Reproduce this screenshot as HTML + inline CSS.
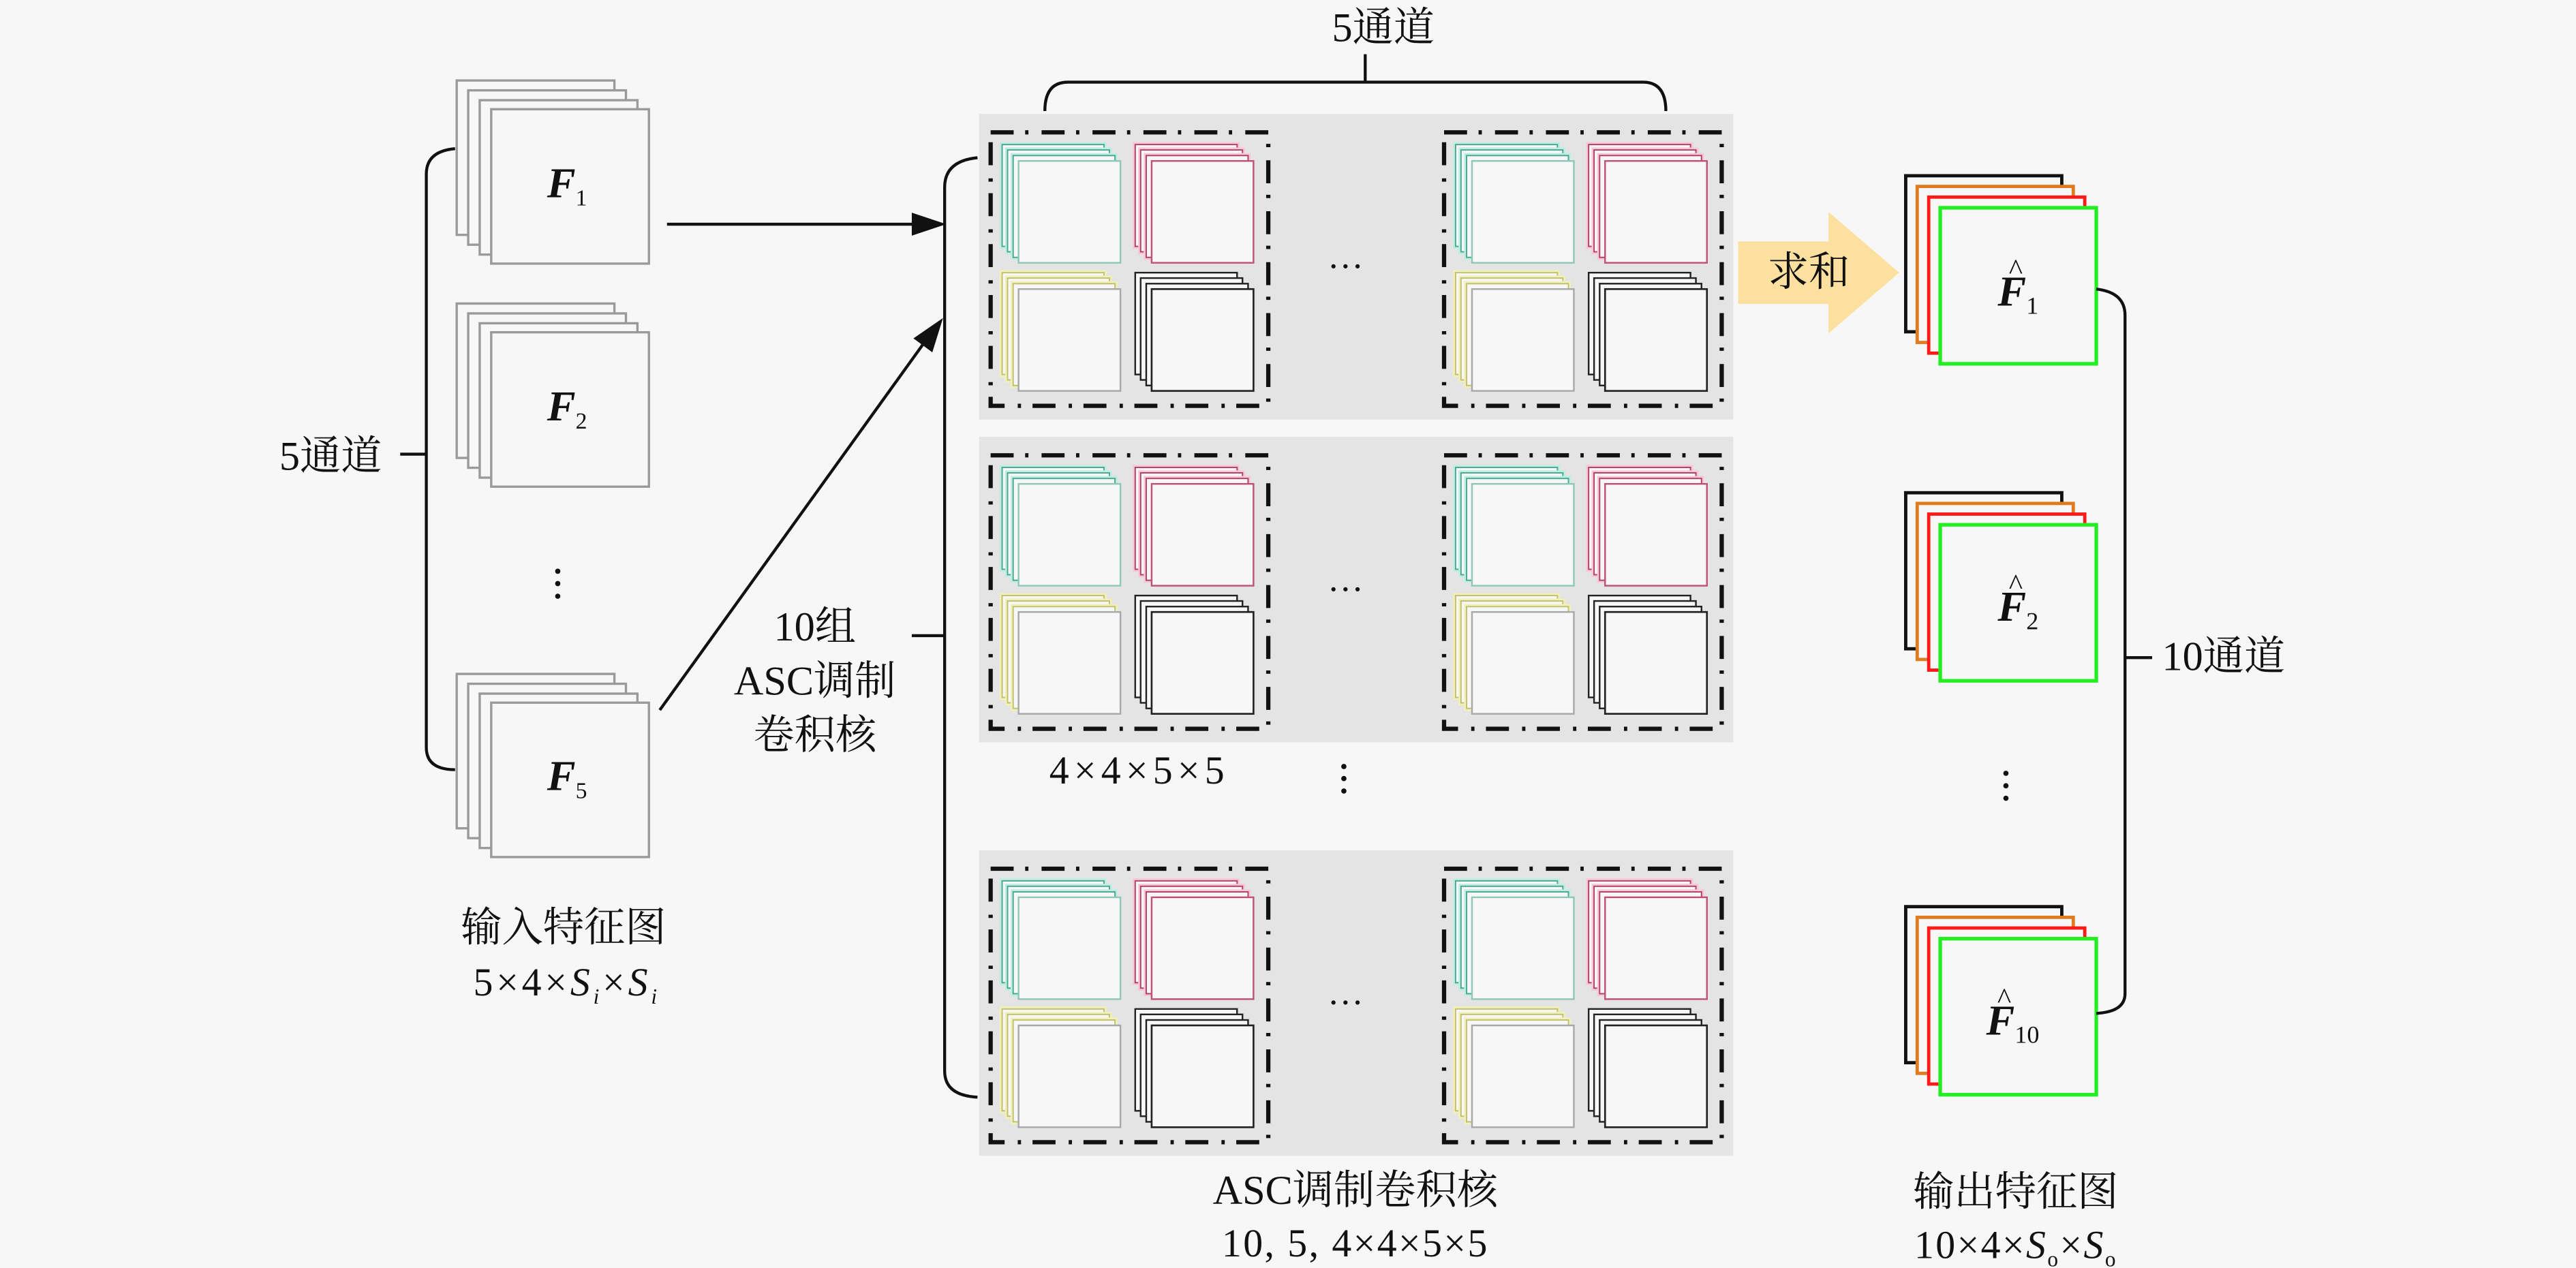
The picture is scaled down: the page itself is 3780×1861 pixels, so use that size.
<!DOCTYPE html>
<html><head><meta charset="utf-8"><style>
html,body{margin:0;padding:0;background:#f7f7f7;}
svg{display:block;}
text{font-family:"Liberation Serif","Noto Serif CJK SC",serif;fill:#111;}
.cj{font-size:25px;}
.m{font-weight:bold;font-style:italic;font-size:26px;}
</style></head><body>
<svg width="3780" height="1861" viewBox="0 0 1568 772" preserveAspectRatio="none" xmlns="http://www.w3.org/2000/svg">
<defs>
  <g id="ist">
    <rect x="-21" y="-17.5" width="96" height="94" fill="#f7f7f7" stroke="#9a9a9a" stroke-width="1.4"/>
    <rect x="-14" y="-11.5" width="96" height="94" fill="#f7f7f7" stroke="#9a9a9a" stroke-width="1.4"/>
    <rect x="-7" y="-5.5" width="96" height="94" fill="#f7f7f7" stroke="#9a9a9a" stroke-width="1.4"/>
    <rect x="0" y="0" width="96" height="94" fill="#f7f7f7" stroke="#9a9a9a" stroke-width="1.4"/>
  </g>
  <g id="ost">
    <rect x="-21" y="-19.5" width="95" height="95" fill="#f7f7f7" stroke="#111" stroke-width="2"/>
    <rect x="-14" y="-13" width="95" height="95" fill="#f7f7f7" stroke="#e07b20" stroke-width="2"/>
    <rect x="-7" y="-6.5" width="95" height="95" fill="#f7f7f7" stroke="#ff1a1a" stroke-width="2"/>
    <rect x="0" y="0" width="95" height="95" fill="#f7f7f7" stroke="#22ee22" stroke-width="2.2"/>
  </g>
  <g id="kt">
    <rect x="-10" y="-10" width="62" height="62" fill="#f7f7f7" stroke="#bdeee0" stroke-width="3"/>
    <rect x="-10" y="-10" width="62" height="62" fill="#f7f7f7" stroke="#4aa890" stroke-width="0.8"/>
    <rect x="-6.7" y="-6.7" width="62" height="62" fill="#f7f7f7" stroke="#bdeee0" stroke-width="3"/>
    <rect x="-6.7" y="-6.7" width="62" height="62" fill="#f7f7f7" stroke="#4aa890" stroke-width="0.8"/>
    <rect x="-3.3" y="-3.3" width="62" height="62" fill="#f7f7f7" stroke="#bdeee0" stroke-width="3"/>
    <rect x="-3.3" y="-3.3" width="62" height="62" fill="#f7f7f7" stroke="#4aa890" stroke-width="0.8"/>
    <rect x="0" y="0" width="62" height="62" fill="#f7f7f7" stroke="#8fc8b8" stroke-width="1"/>
  </g>
  <g id="kp">
    <rect x="-10" y="-10" width="62" height="62" fill="#f7f7f7" stroke="#f8c6d6" stroke-width="3"/>
    <rect x="-10" y="-10" width="62" height="62" fill="#f7f7f7" stroke="#b04068" stroke-width="0.8"/>
    <rect x="-6.7" y="-6.7" width="62" height="62" fill="#f7f7f7" stroke="#f8c6d6" stroke-width="3"/>
    <rect x="-6.7" y="-6.7" width="62" height="62" fill="#f7f7f7" stroke="#b04068" stroke-width="0.8"/>
    <rect x="-3.3" y="-3.3" width="62" height="62" fill="#f7f7f7" stroke="#f8c6d6" stroke-width="3"/>
    <rect x="-3.3" y="-3.3" width="62" height="62" fill="#f7f7f7" stroke="#b04068" stroke-width="0.8"/>
    <rect x="0" y="0" width="62" height="62" fill="#f7f7f7" stroke="#c05078" stroke-width="1"/>
  </g>
  <g id="ky">
    <rect x="-10" y="-10" width="62" height="62" fill="#f7f7f7" stroke="#f0f0b8" stroke-width="3"/>
    <rect x="-10" y="-10" width="62" height="62" fill="#f7f7f7" stroke="#c0c070" stroke-width="0.8"/>
    <rect x="-6.7" y="-6.7" width="62" height="62" fill="#f7f7f7" stroke="#f0f0b8" stroke-width="3"/>
    <rect x="-6.7" y="-6.7" width="62" height="62" fill="#f7f7f7" stroke="#c0c070" stroke-width="0.8"/>
    <rect x="-3.3" y="-3.3" width="62" height="62" fill="#f7f7f7" stroke="#f0f0b8" stroke-width="3"/>
    <rect x="-3.3" y="-3.3" width="62" height="62" fill="#f7f7f7" stroke="#c0c070" stroke-width="0.8"/>
    <rect x="0" y="0" width="62" height="62" fill="#f7f7f7" stroke="#a8a8a8" stroke-width="1"/>
  </g>
  <g id="kb">
    <rect x="-10" y="-10" width="62" height="62" fill="#f7f7f7" stroke="#222" stroke-width="1"/>
    <rect x="-6.7" y="-6.7" width="62" height="62" fill="#f7f7f7" stroke="#222" stroke-width="1"/>
    <rect x="-3.3" y="-3.3" width="62" height="62" fill="#f7f7f7" stroke="#222" stroke-width="1"/>
    <rect x="0" y="0" width="62" height="62" fill="#f7f7f7" stroke="#222" stroke-width="1.1"/>
  </g>
  <g id="kbox">
    <rect x="0" y="0" width="169" height="166.5" fill="none" stroke="#111" stroke-width="2.6" stroke-dasharray="14 7 2 8"/>
    <use href="#kt" x="17" y="17.4"/>
    <use href="#kp" x="98" y="17.4"/>
    <use href="#ky" x="17" y="95.4"/>
    <use href="#kb" x="98" y="95.4"/>
  </g>
  <g id="panel">
    <rect x="596" y="0" width="459" height="186" fill="#e4e4e4"/>
    <use href="#kbox" x="603" y="11.2"/>
    <use href="#kbox" x="879" y="11.2"/>
    <text x="819" y="100" font-size="22" text-anchor="middle">···</text>
  </g>
</defs>

<use href="#ist" x="299" y="66.5"/>
<use href="#ist" x="299" y="202.3"/>
<use href="#ist" x="299" y="427.8"/>
<text class="m" x="333" y="120">F<tspan font-size="14" font-weight="normal" font-style="normal" dy="5">1</tspan></text>
<text class="m" x="333" y="256">F<tspan font-size="14" font-weight="normal" font-style="normal" dy="5">2</tspan></text>
<text class="m" x="333" y="481">F<tspan font-size="14" font-weight="normal" font-style="normal" dy="5">5</tspan></text>
<g fill="#111"><circle cx="339.5" cy="347.8" r="1.6"/><circle cx="339.5" cy="355.3" r="1.6"/><circle cx="339.5" cy="363" r="1.6"/></g>

<path d="M277,90.5 Q259.5,92 259.5,106 L259.5,455 Q259.5,468.6 277,468.6" fill="none" stroke="#111" stroke-width="1.8"/>
<line x1="243.6" y1="276.5" x2="259.5" y2="276.5" stroke="#111" stroke-width="1.8"/>
<text class="cj" x="170" y="286">5通道</text>

<text class="cj" x="343" y="573" text-anchor="middle">输入特征图</text>
<text x="345" y="606" font-size="24" letter-spacing="2" text-anchor="middle">5×4×<tspan font-style="italic">S</tspan><tspan font-style="italic" font-size="13" dy="5">i</tspan><tspan dy="-5">×</tspan><tspan font-style="italic">S</tspan><tspan font-style="italic" font-size="13" dy="5">i</tspan></text>

<line x1="406" y1="136.5" x2="558" y2="136.5" stroke="#111" stroke-width="1.8"/>
<polygon points="576,136.5 555,129.5 555,143.5" fill="#111"/>
<line x1="401.6" y1="432.3" x2="563" y2="208" stroke="#111" stroke-width="1.8"/>
<polygon points="574,193.6 567.5,214.5 556,206" fill="#111"/>

<text class="cj" x="496" y="390" text-anchor="middle">10组</text>
<text class="cj" x="496" y="423" text-anchor="middle">ASC调制</text>
<text class="cj" x="496" y="456" text-anchor="middle">卷积核</text>

<path d="M595,96 Q575,98 575,114 L575,652 Q575,667 595,668" fill="none" stroke="#111" stroke-width="1.8"/>
<line x1="555" y1="387" x2="575" y2="387" stroke="#111" stroke-width="1.8"/>

<use href="#panel" x="0" y="69.4"/>
<use href="#panel" x="0" y="266"/>
<use href="#panel" x="0" y="517.7"/>

<path d="M636,67.6 Q636,50 650,50 L1000,50 Q1014,50 1014,67.6" fill="none" stroke="#111" stroke-width="1.8"/>
<line x1="831" y1="33" x2="831" y2="50" stroke="#111" stroke-width="1.8"/>
<text class="cj" x="842" y="25" text-anchor="middle">5通道</text>

<text x="693.5" y="477" font-size="24" letter-spacing="3" text-anchor="middle">4×4×5×5</text>
<g fill="#111"><circle cx="818" cy="466.7" r="1.6"/><circle cx="818" cy="474" r="1.6"/><circle cx="818" cy="481.6" r="1.6"/></g>
<text class="cj" x="825" y="733" text-anchor="middle">ASC调制卷积核</text>
<text x="825" y="765" font-size="24" letter-spacing="1" text-anchor="middle">10, 5, 4×4×5×5</text>

<polygon points="1058,147 1113,147 1113,129 1156,166 1113,203 1113,185 1058,185" fill="#fce0a0"/>
<text class="cj" x="1101" y="174" text-anchor="middle">求和</text>

<use href="#ost" x="1181" y="126.5"/>
<use href="#ost" x="1181" y="319.5"/>
<use href="#ost" x="1181" y="571.5"/>
<text class="m" x="1216" y="186">F<tspan font-size="15" font-weight="normal" font-style="normal" dy="5">1</tspan></text>
<text x="1227" y="170" font-size="18" text-anchor="middle">^</text>
<text class="m" x="1216" y="378">F<tspan font-size="15" font-weight="normal" font-style="normal" dy="5">2</tspan></text>
<text x="1227" y="362" font-size="18" text-anchor="middle">^</text>
<text class="m" x="1209" y="630">F<tspan font-size="15" font-weight="normal" font-style="normal" dy="5">10</tspan></text>
<text x="1220" y="614" font-size="18" text-anchor="middle">^</text>
<g fill="#111"><circle cx="1221" cy="470.8" r="1.6"/><circle cx="1221" cy="478.4" r="1.6"/><circle cx="1221" cy="486" r="1.6"/></g>

<path d="M1276,176 Q1293.5,178 1293.5,192 L1293.5,605 Q1293.5,616 1276,617" fill="none" stroke="#111" stroke-width="1.8"/>
<line x1="1293.5" y1="400.4" x2="1310" y2="400.4" stroke="#111" stroke-width="1.8"/>
<text class="cj" x="1316" y="408">10通道</text>

<text class="cj" x="1227" y="734" text-anchor="middle">输出特征图</text>
<text x="1227" y="766" font-size="24" letter-spacing="1" text-anchor="middle">10×4×<tspan font-style="italic">S</tspan><tspan font-size="13" dy="5">o</tspan><tspan dy="-5">×</tspan><tspan font-style="italic">S</tspan><tspan font-size="13" dy="5">o</tspan></text>
</svg>
</body></html>
